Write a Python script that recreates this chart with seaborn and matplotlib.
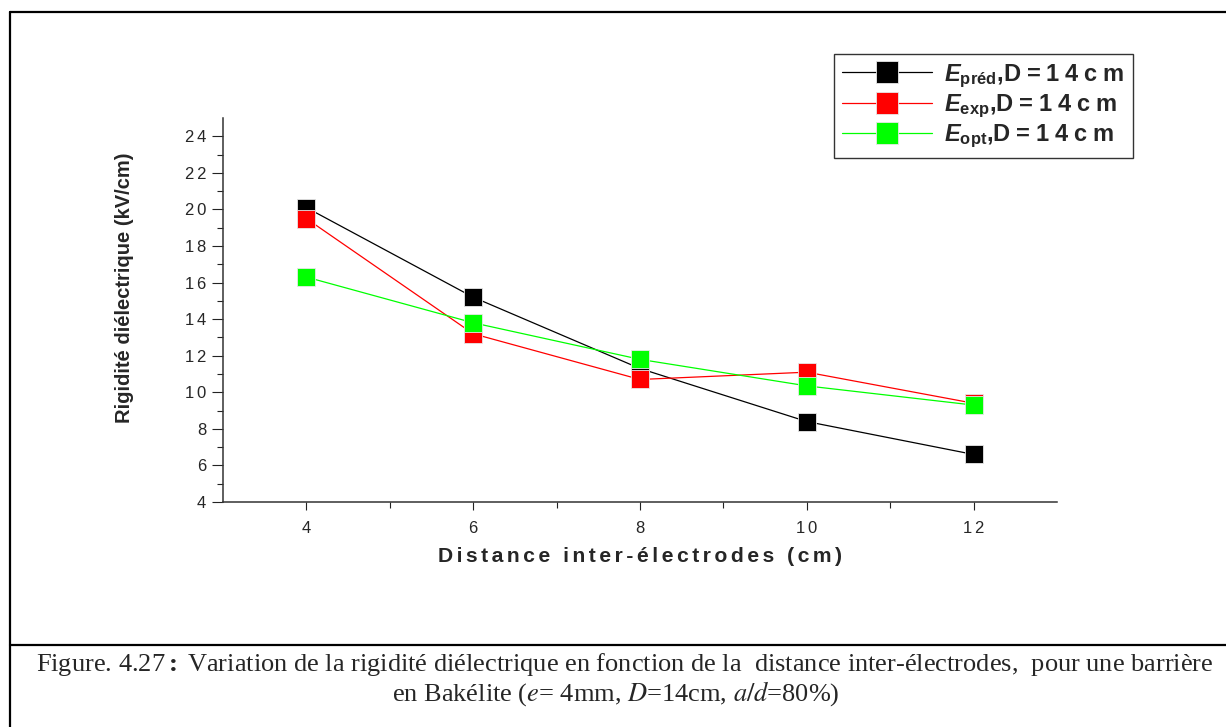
import matplotlib
matplotlib.use("Agg")
import matplotlib.pyplot as plt
import seaborn as sns
import numpy as np
import pandas as pd
from matplotlib.lines import Line2D

# values
distance = [4, 6, 8, 10, 12]
e_pred = [20.1, 15.2, 11.3, 8.4, 6.6]
e_exp = [19.5, 13.2, 10.7, 11.1, 9.4]
e_opt = [16.3, 13.8, 11.8, 10.35, 9.3]

series_names = ["préd", "exp", "opt"]
series_colors = ["#000000", "#ff0000", "#00ff00"]
x_ticks = [4, 6, 8, 10, 12]
y_ticks = [4, 6, 8, 10, 12, 14, 16, 18, 20, 22, 24]

HS = "\u200a"  # hair space, fakes the letter spacing of the original


def spaced(s, n=2):
    return (HS * n).join(s)


sns.set_style("white")
plt.rcParams["font.family"] = ["Liberation Sans", "DejaVu Sans"]
plt.rcParams["mathtext.fontset"] = "custom"
plt.rcParams["mathtext.rm"] = "Liberation Sans"
plt.rcParams["mathtext.it"] = "Liberation Sans:italic"
plt.rcParams["mathtext.bf"] = "Liberation Sans:bold"
plt.rcParams["mathtext.bfit"] = "Liberation Sans:bold:italic"

fig = plt.figure(figsize=(12.26, 7.27), dpi=100)
ax = fig.add_axes([223 / 1226, 1 - 502 / 727, (1057 - 223) / 1226, (502 - 118) / 727])

df = pd.DataFrame({"d": distance, "préd": e_pred, "exp": e_exp, "opt": e_opt})
for name, col in zip(series_names, series_colors):
    sns.lineplot(data=df, x="d", y=name, ax=ax, color=col, linewidth=0.9,
                 marker="s", markersize=12.5, markeredgecolor="#e8e8e8",
                 markeredgewidth=0.6, legend=False)

ax.set_xlim(3, 13)
ax.set_ylim(4, 25)
ax.set_xticks(x_ticks)
ax.set_xticklabels([spaced(str(v), 2) for v in x_ticks])
ax.set_yticks(y_ticks)
ax.set_yticklabels([spaced(str(v), 2) for v in y_ticks])
ax.set_xticks(np.arange(5, 13, 2), minor=True)
ax.set_yticks(np.arange(5, 25, 2), minor=True)
ax.tick_params(axis="both", which="major", direction="out", width=0.8,
               color="#222222", labelsize=12, bottom=True, left=True)
ax.tick_params(axis="y", which="major", length=8, pad=4)
ax.tick_params(axis="x", which="major", length=6, pad=8)
ax.tick_params(axis="both", which="minor", direction="out", length=4,
               width=0.8, color="#222222", bottom=True, left=True)
for side in ["top", "right"]:
    ax.spines[side].set_visible(False)
for side in ["left", "bottom"]:
    ax.spines[side].set_linewidth(1.1)
    ax.spines[side].set_color("#333333")

ax.set_xlabel(spaced("Distance inter-électrodes (cm)", 2),
              fontsize=15.2, fontweight="bold")
ax.xaxis.set_label_coords(0.5, -(556 - 502) / 384)
ax.xaxis.label.set_va("center")
ax.set_ylabel("Rigidité diélectrique (kV/cm)", fontsize=14.5, fontweight="bold")
ax.yaxis.set_label_coords((125 - 223) / 834, (502 - 288) / 384)
ax.yaxis.label.set_va("center")

handles = [Line2D([], [], color=c, linewidth=0.9, marker="s", markersize=16,
                  markeredgecolor="#e8e8e8", markeredgewidth=0.6)
           for c in series_colors]
labels = [r"$\mathbfit{E}_{\mathbf{" + n + "}}$," + spaced("D=14cm", 3)
          for n in series_names]
leg = ax.legend(handles, labels, loc="upper left",
                bbox_to_anchor=(834 / 1226, 1 - 54 / 727),
                bbox_transform=fig.transFigure, borderaxespad=0,
                frameon=True, fancybox=False, handlelength=3.8,
                handletextpad=0.5, labelspacing=0.12, borderpad=0.35,
                prop={"size": 17, "weight": "bold"})
leg.get_frame().set_edgecolor("black")
leg.get_frame().set_linewidth(1.0)

# page frame around the figure and its caption
frame_kw = dict(color="black", linewidth=1.6, transform=fig.transFigure)
fig.add_artist(Line2D([10 / 1226, 10 / 1226], [0, 1 - 12 / 727], **frame_kw))
fig.add_artist(Line2D([10 / 1226, 1], [1 - 12 / 727, 1 - 12 / 727], **frame_kw))
fig.add_artist(Line2D([10 / 1226, 1], [1 - 645 / 727, 1 - 645 / 727], **frame_kw))

cap_kw = dict(family="Liberation Serif", fontsize=19, math_fontfamily="stix",
              ha="center", va="center")
fig.text(625 / 1226, 1 - 665 / 727,
         r"Figure. 4.27$\mathbf{:}$ Variation de la rigidité diélectrique en fonction "
         r"de la  distance inter-électrodes,  pour une barrière", **cap_kw)
fig.text(616 / 1226, 1 - 694 / 727,
         r"en Bakélite ($e$= 4mm, $D$=14cm, $a/d$=80%)", **cap_kw)

fig.savefig("out.png", dpi=100)
